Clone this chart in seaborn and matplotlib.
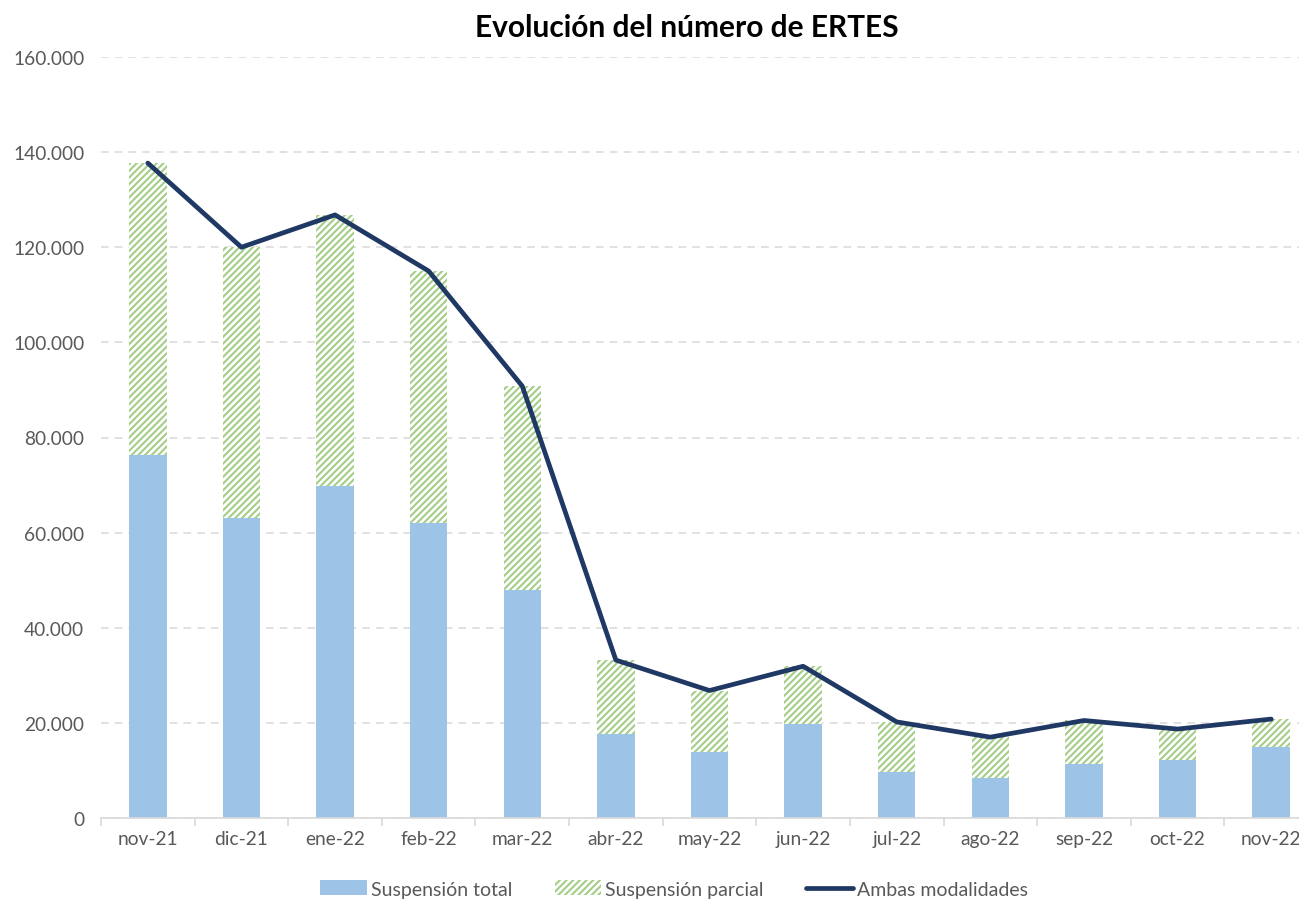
import numpy as np
import pandas as pd
import matplotlib
matplotlib.use("Agg")
import matplotlib.pyplot as plt
import seaborn as sns
from matplotlib.ticker import FuncFormatter
from matplotlib.patches import Patch
from matplotlib.lines import Line2D

meses = ["nov-21", "dic-21", "ene-22", "feb-22", "mar-22", "abr-22", "may-22",
         "jun-22", "jul-22", "ago-22", "sep-22", "oct-22", "nov-22"]
suspension_total = [76300, 63000, 69800, 62000, 47900, 17600, 13900,
                    19800, 9700, 8400, 11300, 12200, 14900]
suspension_parcial = [61400, 57000, 57000, 53000, 42900, 15600, 12900,
                      12100, 10500, 8600, 9200, 6500, 5900]
ambas_modalidades = [137700, 120000, 126800, 115000, 90800, 33200, 26800,
                     31900, 20200, 17000, 20500, 18700, 20800]
y_ticks = [0, 20000, 40000, 60000, 80000, 100000, 120000, 140000, 160000]

sns.set_theme(style="white")
plt.rcParams['font.family'] = ['Lato', 'DejaVu Sans']
plt.rcParams['hatch.linewidth'] = 1.5

BLUE = "#9DC3E6"
GREEN = "#A3CE86"
NAVY = "#1F3864"
GRAY = "#595959"

df = pd.DataFrame({"mes": meses, "total": suspension_total,
                   "parcial": suspension_parcial, "ambas": ambas_modalidades})

fig = plt.figure(figsize=(12.99, 9.03), dpi=100)
ax = fig.add_axes([101/1299, 1 - 819/903, (1318 - 101)/1299, (819 - 58)/903])

sns.barplot(data=df, x="mes", y="total", color=BLUE, width=0.4,
            saturation=1, ax=ax, zorder=2, linewidth=0)
x = np.arange(len(meses))
ax.bar(x, df["parcial"], bottom=df["total"], width=0.4, facecolor="white",
       edgecolor=GREEN, hatch="/////", linewidth=0, zorder=2)
sns.lineplot(x=x, y=df["ambas"], color=NAVY, linewidth=3.4, ax=ax, zorder=3,
             solid_capstyle="round")

ax.set_xlim(-0.5, len(meses) - 0.5)
ax.set_ylim(0, 160000)
ax.set_yticks(y_ticks)
ax.yaxis.set_major_formatter(FuncFormatter(lambda v, p: f"{int(v):,}".replace(",", ".")))
ax.yaxis.grid(True, color="#D9D9D9", linestyle=(0, (5, 4)), linewidth=1.1, zorder=0)
ax.xaxis.grid(False)
ax.set_axisbelow(True)
for s in ["left", "right", "top"]:
    ax.spines[s].set_visible(False)
ax.spines["bottom"].set_color("#D9D9D9")
ax.spines["bottom"].set_linewidth(1.2)
ax.set_xlabel("")
ax.set_ylabel("")
ax.set_xticks(x)
ax.set_xticklabels(meses)
ax.set_xticks(np.arange(-0.5, len(meses), 1.0), minor=True)
ax.tick_params(axis="x", which="major", length=0, labelsize=13.8, labelcolor=GRAY, pad=9)
ax.tick_params(axis="x", which="minor", length=6, color="#D9D9D9", width=1.2, direction="out", bottom=True)
ax.tick_params(axis="y", length=0, labelsize=13.8, labelcolor=GRAY, pad=12)

fig.text(687/1299, 1 - 28/903, "Evolución del número de ERTES", ha="center", va="center",
         fontsize=21.5, fontweight="bold", color="black")

handles = [Patch(facecolor=BLUE, edgecolor=BLUE, linewidth=0),
           Patch(facecolor="white", edgecolor=GREEN, hatch="/////", linewidth=0),
           Line2D([0], [0], color=NAVY, linewidth=3.4)]
labels = ["Suspensión total", "Suspensión parcial", "Ambas modalidades"]
fig.legend(handles, labels, loc="center", bbox_to_anchor=(674/1299, 1 - 890/903), ncol=3,
           frameon=False, fontsize=14, labelcolor=GRAY, handlelength=2.4, handleheight=0.8,
           handletextpad=0.2, columnspacing=2.2)

fig.savefig("out.png", dpi=100)
